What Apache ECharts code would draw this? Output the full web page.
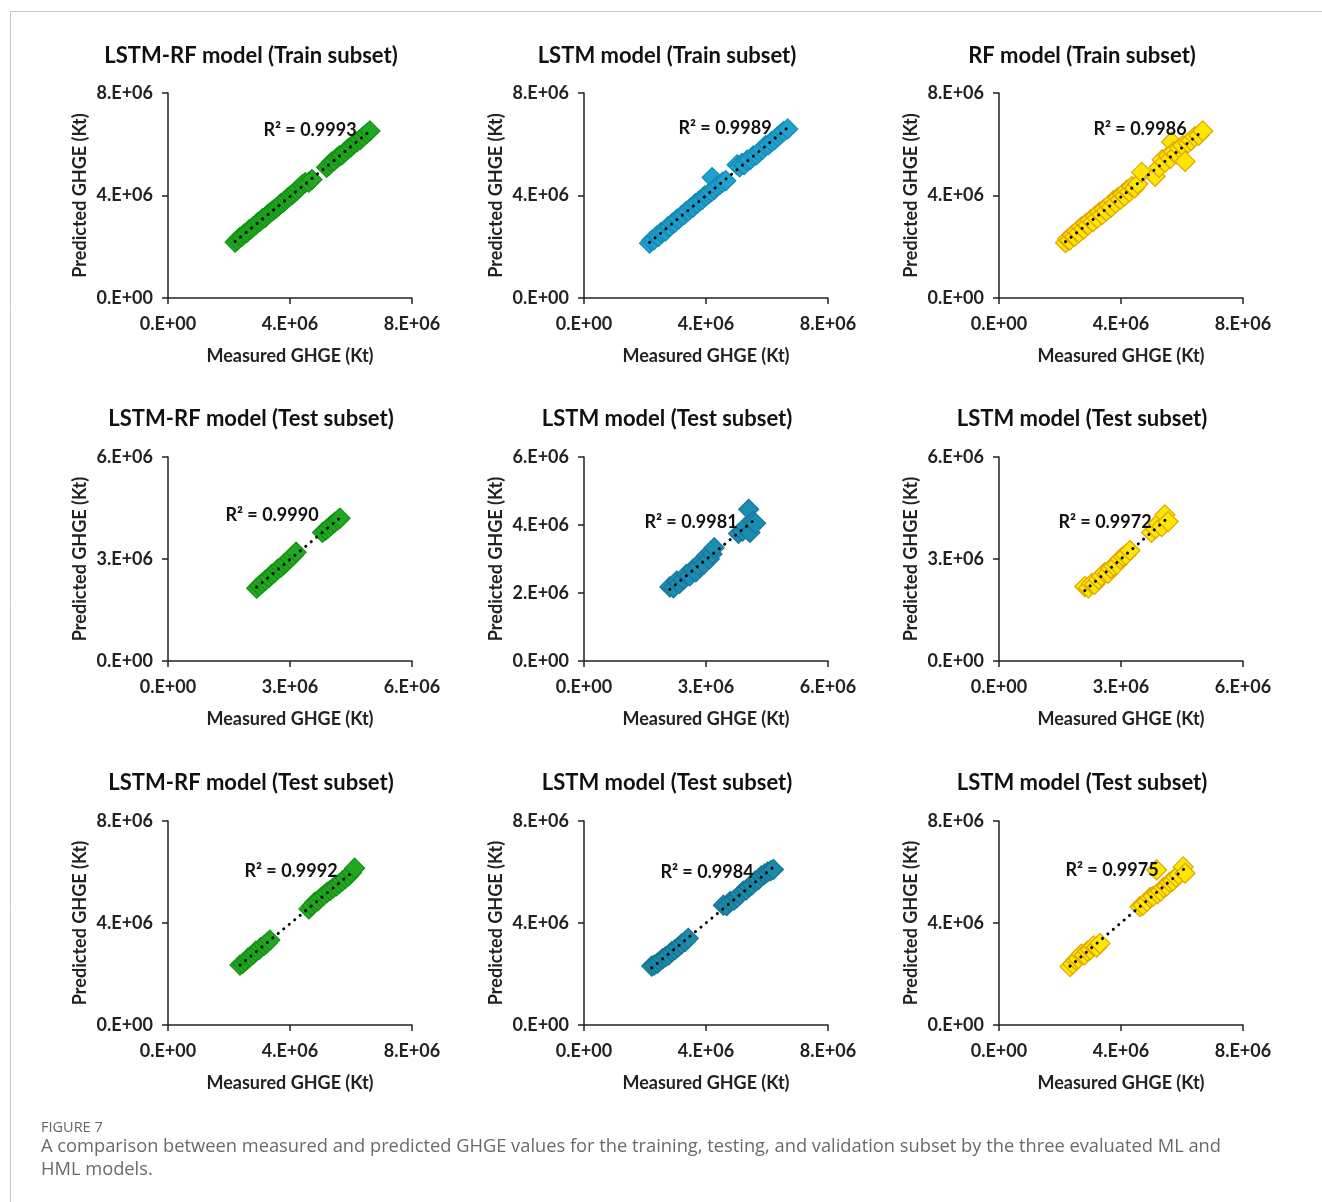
<!DOCTYPE html>
<html><head><meta charset="utf-8">
<script src="https://cdn.jsdelivr.net/npm/echarts@6/dist/echarts.min.js"></script>
<style>html,body{margin:0;padding:0;background:#fff}#c{width:1322px;height:1202px}</style>
</head><body><div id="c"></div>
<script>
// ---------- data (Kt) ----------
const titles = ['LSTM-RF model (Train subset)','LSTM model (Train subset)','RF model (Train subset)',
  'LSTM-RF model (Test subset)','LSTM model (Test subset)','LSTM model (Test subset)',
  'LSTM-RF model (Test subset)','LSTM model (Test subset)','LSTM model (Test subset)'];
const r2Labels = ['R² = 0.9993','R² = 0.9989','R² = 0.9986','R² = 0.9990','R² = 0.9981','R² = 0.9972','R² = 0.9992','R² = 0.9984','R² = 0.9975'];
const axisMax = [8e6,8e6,8e6,6e6,6e6,6e6,8e6,8e6,8e6];
const xInterval = [4e6,4e6,4e6,3e6,3e6,3e6,4e6,4e6,4e6];
const yInterval = [4e6,4e6,4e6,3e6,2e6,3e6,4e6,4e6,4e6];

const meas1 = [2.20e6,2.28e6,2.35e6,2.42e6,2.50e6,2.58e6,2.65e6,2.72e6,2.80e6,2.88e6,2.95e6,3.02e6,3.10e6,3.18e6,3.25e6,3.32e6,3.40e6,3.48e6,3.55e6,3.62e6,3.70e6,3.78e6,3.85e6,3.92e6,4.00e6,4.08e6,4.15e6,4.22e6,4.30e6,4.40e6,4.50e6,4.62e6,4.72e6,5.20e6,5.28e6,5.36e6,5.45e6,5.55e6,5.62e6,5.70e6,5.80e6,5.90e6,6.00e6,6.10e6,6.20e6,6.30e6,6.40e6,6.52e6,6.62e6];
const pred1 = [2.18e6,2.27e6,2.36e6,2.40e6,2.50e6,2.55e6,2.65e6,2.70e6,2.79e6,2.86e6,2.95e6,3.00e6,3.10e6,3.14e6,3.24e6,3.30e6,3.38e6,3.45e6,3.52e6,3.58e6,3.68e6,3.74e6,3.82e6,3.90e6,3.98e6,4.04e6,4.12e6,4.20e6,4.30e6,4.42e6,4.50e6,4.52e6,4.62e6,5.10e6,5.18e6,5.30e6,5.36e6,5.48e6,5.55e6,5.58e6,5.70e6,5.82e6,5.90e6,6.02e6,6.10e6,6.18e6,6.30e6,6.42e6,6.52e6];

const meas2 = [2.15e6,2.22e6,2.30e6,2.38e6,2.45e6,2.52e6,2.60e6,2.68e6,2.75e6,2.82e6,2.90e6,2.98e6,3.05e6,3.12e6,3.20e6,3.28e6,3.35e6,3.42e6,3.50e6,3.58e6,3.65e6,3.72e6,3.80e6,3.88e6,3.95e6,4.02e6,4.10e6,4.18e6,4.20e6,4.28e6,4.35e6,4.45e6,4.55e6,4.65e6,5.02e6,5.10e6,5.18e6,5.25e6,5.35e6,5.45e6,5.55e6,5.65e6,5.75e6,5.85e6,5.95e6,6.05e6,6.15e6,6.25e6,6.35e6,6.45e6,6.55e6,6.68e6];
const pred2 = [2.14e6,2.25e6,2.28e6,2.42e6,2.40e6,2.55e6,2.60e6,2.62e6,2.78e6,2.80e6,2.92e6,2.95e6,3.08e6,3.10e6,3.22e6,3.25e6,3.38e6,3.40e6,3.52e6,3.55e6,3.68e6,3.70e6,3.82e6,3.85e6,3.98e6,4.00e6,4.08e6,4.15e6,4.70e6,4.25e6,4.35e6,4.42e6,4.52e6,4.58e6,5.20e6,5.12e6,5.25e6,5.20e6,5.38e6,5.40e6,5.55e6,5.58e6,5.70e6,5.80e6,5.95e6,5.98e6,6.10e6,6.18e6,6.30e6,6.40e6,6.50e6,6.60e6];

const meas3 = [2.18e6,2.25e6,2.32e6,2.40e6,2.48e6,2.55e6,2.62e6,2.70e6,2.78e6,2.85e6,2.92e6,3.00e6,3.08e6,3.15e6,3.22e6,3.30e6,3.38e6,3.45e6,3.52e6,3.60e6,3.68e6,3.75e6,3.82e6,3.90e6,3.98e6,4.05e6,4.12e6,4.20e6,4.28e6,4.35e6,4.45e6,4.55e6,4.68e6,5.12e6,5.25e6,5.35e6,5.45e6,5.55e6,5.62e6,5.66e6,5.72e6,5.82e6,5.92e6,6.02e6,6.10e6,6.20e6,6.30e6,6.42e6,6.55e6,6.68e6];
const pred3 = [2.16e6,2.30e6,2.26e6,2.45e6,2.40e6,2.60e6,2.55e6,2.78e6,2.70e6,2.90e6,2.85e6,3.05e6,2.98e6,3.20e6,3.12e6,3.35e6,3.25e6,3.48e6,3.40e6,3.62e6,3.55e6,3.80e6,3.70e6,3.92e6,3.85e6,4.05e6,3.98e6,4.22e6,4.15e6,4.35e6,4.30e6,4.45e6,4.90e6,4.75e6,5.10e6,5.40e6,5.30e6,5.55e6,5.45e6,6.09e6,5.70e6,5.62e6,5.85e6,5.95e6,5.33e6,6.05e6,6.15e6,6.30e6,6.35e6,6.52e6];

const meas4 = [2.18e6,2.25e6,2.32e6,2.40e6,2.48e6,2.55e6,2.62e6,2.70e6,2.78e6,2.85e6,2.92e6,3.00e6,3.08e6,3.15e6,3.80e6,3.88e6,3.95e6,4.02e6,4.10e6,4.18e6,4.23e6];
const pred4 = [2.14e6,2.22e6,2.30e6,2.38e6,2.45e6,2.55e6,2.60e6,2.70e6,2.76e6,2.85e6,2.92e6,3.02e6,3.10e6,3.20e6,3.78e6,3.85e6,3.92e6,4.00e6,4.08e6,4.15e6,4.20e6];

const meas5 = [2.11e6,2.20e6,2.28e6,2.35e6,2.45e6,2.52e6,2.60e6,2.68e6,2.75e6,2.82e6,2.90e6,2.95e6,3.02e6,3.08e6,3.15e6,3.20e6,3.80e6,3.90e6,3.98e6,4.05e6,4.08e6,4.15e6,4.22e6];
const pred5 = [2.18e6,2.15e6,2.35e6,2.28e6,2.40e6,2.55e6,2.50e6,2.70e6,2.62e6,2.80e6,2.95e6,2.85e6,3.10e6,3.00e6,3.15e6,3.33e6,3.75e6,3.82e6,3.95e6,4.46e6,3.78e6,4.10e6,4.05e6];

const meas6 = [2.11e6,2.20e6,2.28e6,2.35e6,2.45e6,2.52e6,2.60e6,2.68e6,2.75e6,2.82e6,2.90e6,2.98e6,3.05e6,3.12e6,3.22e6,3.75e6,3.85e6,3.92e6,4.00e6,4.08e6,4.16e6];
const pred6 = [2.19e6,2.15e6,2.28e6,2.25e6,2.40e6,2.50e6,2.60e6,2.58e6,2.72e6,2.80e6,2.85e6,3.00e6,3.08e6,3.12e6,3.25e6,3.78e6,3.90e6,4.05e6,3.95e6,4.30e6,4.10e6];

const meas7 = [2.36e6,2.45e6,2.55e6,2.62e6,2.70e6,2.80e6,2.88e6,2.98e6,3.05e6,3.15e6,3.25e6,3.34e6,4.62e6,4.72e6,4.82e6,4.92e6,5.02e6,5.12e6,5.22e6,5.32e6,5.42e6,5.52e6,5.62e6,5.72e6,5.82e6,5.92e6,6.02e6,6.12e6];
const pred7 = [2.35e6,2.42e6,2.52e6,2.62e6,2.68e6,2.78e6,2.90e6,2.95e6,3.05e6,3.12e6,3.22e6,3.33e6,4.55e6,4.68e6,4.82e6,4.88e6,5.00e6,5.10e6,5.20e6,5.28e6,5.38e6,5.45e6,5.55e6,5.65e6,5.75e6,5.85e6,5.98e6,6.15e6];

const meas8 = [2.22e6,2.30e6,2.40e6,2.48e6,2.58e6,2.68e6,2.78e6,2.88e6,2.98e6,3.08e6,3.20e6,3.32e6,3.42e6,4.57e6,4.68e6,4.80e6,4.92e6,5.02e6,5.12e6,5.22e6,5.32e6,5.42e6,5.52e6,5.62e6,5.72e6,5.82e6,5.92e6,6.02e6,6.12e6,6.21e6];
const pred8 = [2.31e6,2.35e6,2.42e6,2.50e6,2.60e6,2.68e6,2.75e6,2.88e6,2.95e6,3.05e6,3.18e6,3.28e6,3.40e6,4.70e6,4.68e6,4.85e6,4.90e6,5.00e6,5.12e6,5.25e6,5.30e6,5.42e6,5.50e6,5.65e6,5.70e6,5.85e6,5.92e6,6.00e6,6.05e6,6.10e6];

const meas9 = [2.33e6,2.42e6,2.52e6,2.60e6,2.70e6,2.80e6,2.90e6,3.00e6,3.10e6,3.20e6,3.31e6,4.62e6,4.72e6,4.85e6,4.95e6,5.05e6,5.17e6,5.20e6,5.30e6,5.40e6,5.50e6,5.60e6,5.70e6,5.80e6,5.90e6,6.04e6,6.10e6];
const pred9 = [2.29e6,2.40e6,2.55e6,2.60e6,2.78e6,2.75e6,2.90e6,2.95e6,3.10e6,3.05e6,3.20e6,4.64e6,4.70e6,4.85e6,5.00e6,5.05e6,6.08e6,5.15e6,5.25e6,5.40e6,5.45e6,5.60e6,5.65e6,5.80e6,5.90e6,6.20e6,5.95e6];

const measured = [meas1,meas2,meas3,meas4,meas5,meas6,meas7,meas8,meas9];
const predicted = [pred1,pred2,pred3,pred4,pred5,pred6,pred7,pred8,pred9];

// ---------- styles ----------
const fills   = ['#22a722','#1fa2cf','#ffe600','#22a722','#1b8db0','#ffe600','#22a722','#1b8aab','#ffe600'];
const borders = ['#149314','#178ab6','#e0a400','#149314','#16779a','#e0a400','#149314','#157592','#e0a400'];
const colLeft = [168,584,999];
const rowTop = [93,457,821];
const rowH = [205,204,204];
const PW = 244;
const r2Pos = [[310,130],[725,128],[1140,129],[272,515],[691,522],[1105,522],[291,871],[707,872],[1112,870]];
const FONT = 'Lato';
const INK = '#222';

function fmt(v){ if(v===0) return '0.E+00'; return Math.round(v/1e6)+'.E+06'; }
function fit(xs, ys){
  const n=xs.length; let sx=0,sy=0,sxx=0,sxy=0;
  for(let i=0;i<n;i++){sx+=xs[i];sy+=ys[i];sxx+=xs[i]*xs[i];sxy+=xs[i]*ys[i];}
  const b=(n*sxy-sx*sy)/(n*sxx-sx*sx), a=(sy-b*sx)/n;
  const mn=Math.min(...xs), mx=Math.max(...xs);
  return [[mn,a+b*mn],[mx,a+b*mx]];
}

const grid=[], xAxis=[], yAxis=[], series=[], graphic=[];
for(let i=0;i<9;i++){
  const r=Math.floor(i/3), c=i%3;
  grid.push({left:colLeft[c], top:rowTop[r], width:PW, height:rowH[r]});
  const axisCommon = {
    min:0, max:axisMax[i], gridIndex:i, splitLine:{show:false},
    axisLine:{show:true, onZero:false, lineStyle:{color:INK, width:1.5}},
    axisTick:{show:true, inside:false, length:6, lineStyle:{color:INK, width:1.5}},
    axisLabel:{formatter:fmt, color:INK, fontFamily:FONT, fontWeight:'bold', fontSize:18},
    nameLocation:'middle',
    nameTextStyle:{color:INK, fontFamily:FONT, fontWeight:'bold', fontSize:18}
  };
  xAxis.push(Object.assign({}, axisCommon, {type:'value', interval:xInterval[i], name:'Measured GHGE (Kt)', nameGap:49,
    axisLabel:Object.assign({}, axisCommon.axisLabel, {margin:17})}));
  yAxis.push(Object.assign({}, axisCommon, {type:'value', interval:yInterval[i], name:'Predicted GHGE (Kt)', nameGap:79,
    axisLabel:Object.assign({}, axisCommon.axisLabel, {margin:15})}));
  const pts = measured[i].map((m,k)=>[m, predicted[i][k]]);
  series.push({type:'scatter', xAxisIndex:i, yAxisIndex:i, data:pts, symbol:'diamond', symbolSize:20,
    itemStyle:{color:fills[i], borderColor:borders[i], borderWidth:1.2, opacity:1}, z:2, silent:true});
  series.push({type:'line', xAxisIndex:i, yAxisIndex:i, data:fit(measured[i], predicted[i]), symbol:'none',
    lineStyle:{color:'#000', width:3, type:[0.1,7], cap:'round'}, z:3, silent:true, animation:false});
  graphic.push({type:'text', x:colLeft[c]+83, y:[56,419,783][r], z:10,
    style:{text:titles[i], align:'center', verticalAlign:'middle', fill:'#111', font:'bold 22px '+FONT}});
  graphic.push({type:'text', z:10, x:r2Pos[i][0], y:r2Pos[i][1],
    style:{text:r2Labels[i], align:'center', verticalAlign:'middle', fill:'#111', font:'bold 18px '+FONT}});
}

// frame and caption
graphic.push({type:'line', shape:{x1:10,y1:11.5,x2:1322,y2:11.5}, style:{stroke:'#c8c8c8', lineWidth:1}});
graphic.push({type:'line', shape:{x1:10.5,y1:11,x2:10.5,y2:1202}, style:{stroke:'#c8c8c8', lineWidth:1}});
graphic.push({type:'text', x:41, y:1128, style:{text:'FIGURE 7', verticalAlign:'middle', fill:'#666', font:'14.5px "Open Sans"'}});
graphic.push({type:'text', x:41, y:1147, style:{text:'A comparison between measured and predicted GHGE values for the training, testing, and validation subset by the three evaluated ML and', verticalAlign:'middle', fill:'#6a6a6a', font:'18.3px "Open Sans"'}});
graphic.push({type:'text', x:41, y:1170, style:{text:'HML models.', verticalAlign:'middle', fill:'#6a6a6a', font:'18.3px "Open Sans"'}});

const chart = echarts.init(document.getElementById('c'), null, {renderer:'canvas'});
chart.setOption({animation:false, backgroundColor:'#fff', grid, xAxis, yAxis, series, graphic});
</script></body></html>
